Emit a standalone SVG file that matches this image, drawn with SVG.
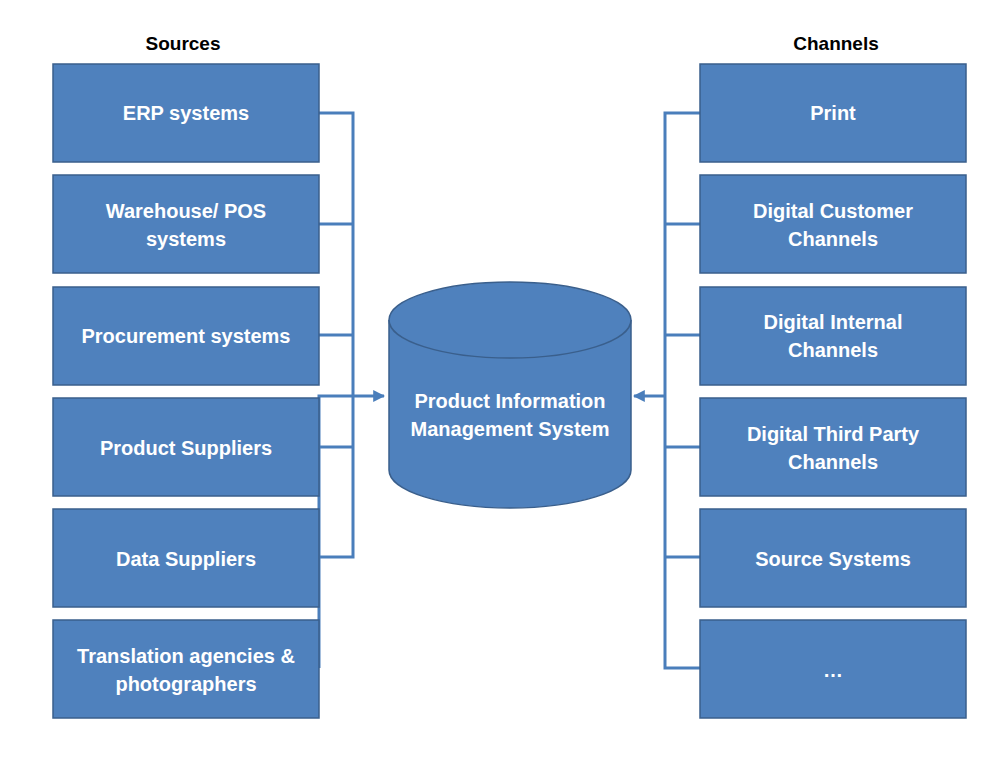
<svg xmlns="http://www.w3.org/2000/svg" width="1000" height="764" viewBox="0 0 1000 764">
<style>
.box{fill:#4F81BD;stroke:#3A5F8C;stroke-width:1.5}
.t{font-family:"Liberation Sans",Arial,sans-serif;font-weight:bold;font-size:20px;fill:#fff;text-anchor:middle}
.h{font-family:"Liberation Sans",Arial,sans-serif;font-weight:bold;font-size:19px;fill:#000;text-anchor:middle}
.ln{fill:none;stroke:#4A7EBB;stroke-width:3}
</style>
<defs>
<marker id="ah" viewBox="0 0 10 10" refX="9" refY="5" markerWidth="4" markerHeight="4" orient="auto">
<path d="M0,0 L10,5 L0,10 z" fill="#4A7EBB"/>
</marker>
</defs>
<rect width="1000" height="764" fill="#fff"/>
<text class="h" x="183" y="50">Sources</text>
<text class="h" x="836" y="50">Channels</text>
<g id="connectors">
<path class="ln" d="M319,113 H353 V557 H319 M319,224 H353 M319,335 H353 M319,447 H353"/>
<path class="ln" d="M319,668 V396 H384" marker-end="url(#ah)"/>
<path class="ln" d="M700,113 H665 V668 H700 M700,224 H665 M700,335 H665 M700,447 H665 M700,557 H665"/>
<path class="ln" d="M665,396 H634" marker-end="url(#ah)"/>
</g>
<g id="erp"><rect class="box" x="53" y="64" width="266" height="98"/><text class="t" x="186" y="120">ERP systems</text></g>
<g id="warehouse"><rect class="box" x="53" y="175" width="266" height="98"/><text class="t" x="186" y="218">Warehouse/ POS</text><text class="t" x="186" y="246">systems</text></g>
<g id="procurement"><rect class="box" x="53" y="287" width="266" height="98"/><text class="t" x="186" y="343">Procurement systems</text></g>
<g id="product-suppliers"><rect class="box" x="53" y="398" width="266" height="98"/><text class="t" x="186" y="455">Product Suppliers</text></g>
<g id="data-suppliers"><rect class="box" x="53" y="509" width="266" height="98"/><text class="t" x="186" y="566">Data Suppliers</text></g>
<g id="translation"><rect class="box" x="53" y="620" width="266" height="98"/><text class="t" x="186" y="663">Translation agencies &amp;</text><text class="t" x="186" y="691">photographers</text></g>
<g id="print"><rect class="box" x="700" y="64" width="266" height="98"/><text class="t" x="833" y="120">Print</text></g>
<g id="digital-customer"><rect class="box" x="700" y="175" width="266" height="98"/><text class="t" x="833" y="218">Digital Customer</text><text class="t" x="833" y="246">Channels</text></g>
<g id="digital-internal"><rect class="box" x="700" y="287" width="266" height="98"/><text class="t" x="833" y="329">Digital Internal</text><text class="t" x="833" y="357">Channels</text></g>
<g id="digital-third"><rect class="box" x="700" y="398" width="266" height="98"/><text class="t" x="833" y="441">Digital Third Party</text><text class="t" x="833" y="469">Channels</text></g>
<g id="source-systems"><rect class="box" x="700" y="509" width="266" height="98"/><text class="t" x="833" y="566">Source Systems</text></g>
<g id="more"><rect class="box" x="700" y="620" width="266" height="98"/><text class="t" x="833" y="677">…</text></g>
<g id="pim">
<path class="box" d="M389,320 V470 A121,38 0 0 0 631,470 V320"/>
<ellipse class="box" cx="510" cy="320" rx="121" ry="38"/>
<text class="t" x="510" y="408">Product Information</text>
<text class="t" x="510" y="436">Management System</text>
</g>
</svg>
